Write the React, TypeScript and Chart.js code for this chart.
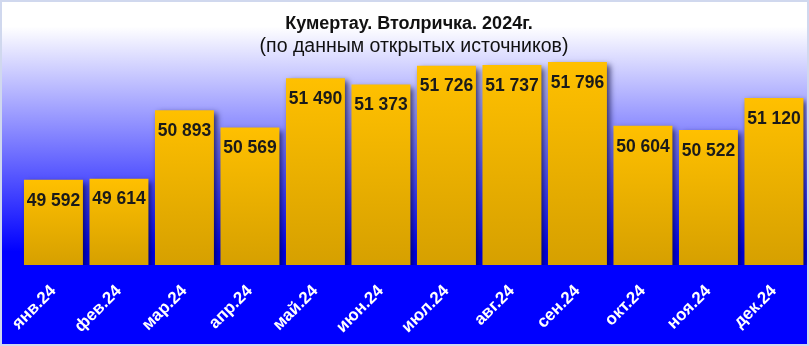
import React, { useEffect, useRef } from "react";
import { Chart, registerables } from "chart.js";

Chart.register(...registerables);

const categories = ["янв.24", "фев.24", "мар.24", "апр.24", "май.24", "июн.24", "июл.24", "авг.24", "сен.24", "окт.24", "ноя.24", "дек.24"];
const prices = [49592, 49614, 50893, 50569, 51490, 51373, 51726, 51737, 51796, 50604, 50522, 51120];
const titleText = "Кумертау. Втолричка. 2024г.";
const subtitleText = "(по данным открытых источников)";
const yMin = 48000;
const yMax = 52000;

const W = 809;
const H = 346;
const FONT = "'Liberation Sans', Arial, sans-serif";

function fmt(v: number): string {
  const s = String(Math.round(v));
  return s.replace(/\B(?=(\d{3})+(?!\d))/g, " ");
}

const backgroundPlugin = {
  id: "bgPlugin",
  beforeDraw(chart: any) {
    const { ctx, chartArea } = chart;
    ctx.save();
    const g = ctx.createLinearGradient(0, 0, 0, chartArea.bottom);
    g.addColorStop(0, "#ffffff");
    g.addColorStop(0.1, "#ffffff");
    g.addColorStop(0.95, "#0000ff");
    g.addColorStop(1, "#0000ff");
    ctx.fillStyle = g;
    ctx.fillRect(0, 0, W, chartArea.bottom);
    ctx.fillStyle = "#0000ff";
    ctx.fillRect(0, chartArea.bottom, W, H - chartArea.bottom);
    // titles
    ctx.fillStyle = "#111111";
    ctx.textAlign = "center";
    ctx.textBaseline = "middle";
    ctx.font = `bold 18px ${FONT}`;
    ctx.fillText(titleText, 409, 24);
    ctx.font = `19.5px ${FONT}`;
    ctx.fillText(subtitleText, 414, 47);
    ctx.restore();
  },
  beforeDatasetsDraw(chart: any) {
    const { ctx, chartArea } = chart;
    ctx.save();
    ctx.beginPath();
    ctx.rect(0, 0, W, chartArea.bottom);
    ctx.clip();
    ctx.shadowColor = "rgba(0,0,50,0.7)";
    ctx.shadowBlur = 6;
    ctx.shadowOffsetX = 3;
    ctx.shadowOffsetY = 3;
  },
  afterDatasetsDraw(chart: any) {
    const { ctx } = chart;
    ctx.restore();
    const meta = chart.getDatasetMeta(0);
    ctx.save();
    ctx.fillStyle = "#1a1a1a";
    ctx.textAlign = "center";
    ctx.textBaseline = "middle";
    ctx.font = `bold 17.5px ${FONT}`;
    meta.data.forEach((bar: any, i: number) => {
      ctx.fillText(fmt(prices[i]), bar.x, bar.y + 21);
    });
    ctx.restore();
  },
  afterDraw(chart: any) {
    const { ctx } = chart;
    ctx.save();
    ctx.strokeStyle = "#d0d8ee";
    ctx.lineWidth = 2;
    ctx.strokeRect(1, 1, W - 2, H - 2);
    ctx.restore();
  },
};

export default function App() {
  const ref = useRef<HTMLCanvasElement | null>(null);
  useEffect(() => {
    if (!ref.current) return;
    const chart = new Chart(ref.current, {
      type: "bar",
      data: {
        labels: categories,
        datasets: [
          {
            data: prices,
            backgroundColor: (c: any) => {
              const ch = c.chart;
              const area = ch.chartArea;
              const ys = ch.scales?.y;
              if (!area || !ys || c.raw == null) return "#f5b800";
              const top = ys.getPixelForValue(c.raw);
              const g = ch.ctx.createLinearGradient(0, top, 0, area.bottom);
              g.addColorStop(0, "#ffc000");
              g.addColorStop(1, "#d6a000");
              return g;
            },
            borderWidth: 0,
            categoryPercentage: 1,
            barPercentage: 0.9,
          },
        ],
      },
      options: {
        responsive: false,
        animation: false,
        layout: { padding: { top: 51, left: 20.7, right: 2.3, bottom: 0 } },
        plugins: {
          legend: { display: false },
          title: { display: false },
          tooltip: { enabled: false },
        },
        scales: {
          x: {
            grid: { display: false, drawTicks: false },
            border: { display: false },
            ticks: {
              color: "#ffffff",
              font: { family: FONT, size: 17, weight: "bold" },
              minRotation: 45,
              maxRotation: 45,
              padding: 16,
            },
            afterFit: (scale: any) => {
              scale.height = 81;
              scale.paddingLeft = 0;
              scale.paddingRight = 0;
            },
          },
          y: {
            display: false,
            min: yMin,
            max: yMax,
          },
        },
      },
      plugins: [backgroundPlugin],
    });
    return () => chart.destroy();
  }, []);
  return (
    <div style={{ position: "absolute", left: 0, top: 0, width: W, height: H }}>
      <canvas ref={ref} width={W} height={H} style={{ width: W, height: H, display: "block" }} />
    </div>
  );
}
